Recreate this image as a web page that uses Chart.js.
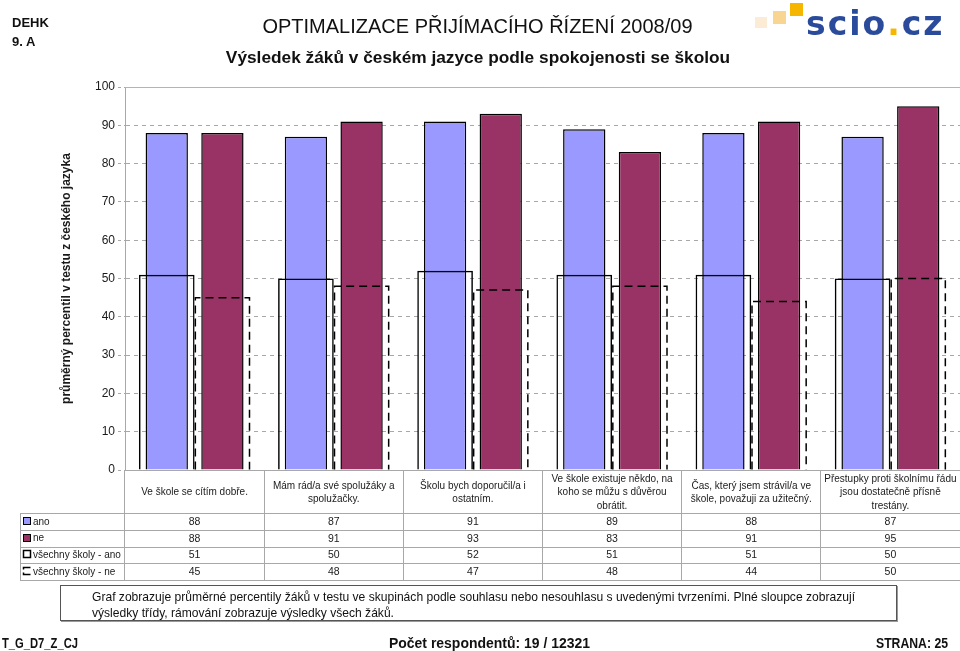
<!DOCTYPE html>
<html>
<head>
<meta charset="utf-8">
<script src="https://cdn.jsdelivr.net/npm/chart.js@4.4.0/dist/chart.umd.min.js"></script>
<style>
body{margin:0;width:960px;height:651px;position:relative;overflow:hidden;background:#fff;font-family:"Liberation Sans",Arial,sans-serif;color:#111}
#wrap{position:absolute;left:0;top:0;width:960px;height:651px}
.abs{position:absolute;white-space:nowrap}
.sq{display:inline-block;transform-origin:0 50%}
</style>
</head>
<body>
<div id="wrap"><canvas id="chart"></canvas></div>

<div class="abs" style="left:12px;top:13px;font-weight:bold;font-size:13px;line-height:19px">DEHK<br>9. A</div>
<div class="abs" style="left:0;width:955px;top:15px;text-align:center;font-size:20px">OPTIMALIZACE PŘIJÍMACÍHO ŘÍZENÍ 2008/09</div>
<div class="abs" style="left:0;width:956px;top:47px;text-align:center;font-size:17.3px;font-weight:bold">Výsledek žáků v českém jazyce podle spokojenosti se školou</div>

<!-- logo -->
<div class="abs" style="left:755px;top:17px;width:12px;height:11px;background:#fcecd6"></div>
<div class="abs" style="left:773px;top:11px;width:13px;height:13px;background:#f9d592"></div>
<div class="abs" style="left:790px;top:3px;width:13px;height:13px;background:#f6b600"></div>
<div class="abs" style="left:806px;top:4px;font-family:'DejaVu Sans',sans-serif;font-weight:bold;font-size:33px;letter-spacing:2px;color:#2a4b9c">scio<span style="color:#f6b600">.</span>cz</div>

<!-- note box -->
<div class="abs" style="left:60px;top:585px;width:837px;height:36px;border:1px solid #555;box-shadow:1px 1px 0 #999;box-sizing:border-box"></div>
<div class="abs" style="left:92px;top:589px;font-size:13px;line-height:15.5px">
  <span class="sq" data-w="763">Graf zobrazuje průměrné percentily žáků v testu ve skupinách podle souhlasu nebo nesouhlasu s uvedenými tvrzeními. Plné sloupce zobrazují</span><br>
  <span class="sq">výsledky třídy, rámování zobrazuje výsledky všech žáků.</span>
</div>

<div class="abs" style="left:2px;top:636px;font-size:14px;line-height:14px;font-weight:bold"><span class="sq" data-w="76">T_G_D7_Z_CJ</span></div>
<div class="abs" style="left:389px;top:636px;font-size:14px;line-height:14px;font-weight:bold"><span class="sq" data-w="201">Počet respondentů: 19 / 12321</span></div>
<div class="abs" style="left:876px;top:636px;font-size:14px;line-height:14px;font-weight:bold"><span class="sq" data-w="72">STRANA: 25</span></div>

<script>
// DATA
const categories = [
  ['Ve škole se cítím dobře.'],
  ['Mám rád/a své spolužáky a', 'spolužačky.'],
  ['Školu bych doporučil/a i', 'ostatním.'],
  ['Ve škole existuje někdo, na', 'koho se můžu s důvěrou', 'obrátit.'],
  ['Čas, který jsem strávil/a ve', 'škole, považuji za užitečný.'],
  ['Přestupky proti školnímu řádu', 'jsou dostatečně přísně', 'trestány.']
];
const seriesNames = ['ano', 'ne', 'všechny školy - ano', 'všechny školy - ne'];
const anoValues = [88, 87, 91, 89, 88, 87];
const neValues = [88, 91, 93, 83, 91, 95];
const allAnoValues = [51, 50, 52, 51, 51, 50];
const allNeValues = [45, 48, 47, 48, 44, 50];
const yTicks = [0, 10, 20, 30, 40, 50, 60, 70, 80, 90, 100];

const GRID = '#a8a8a8';
const TEXT = '#1a1a1a';
const FONT = '"Liberation Sans", Arial, sans-serif';

// squeeze the narrow footer texts to their width
let firstScale = 1;
document.querySelectorAll('.sq').forEach(el => {
  if (el.dataset.w) {
    const s = +el.dataset.w / el.getBoundingClientRect().width;
    el.style.transform = `scaleX(${s})`;
    if (el.textContent.startsWith('Graf')) firstScale = s;
  } else {
    el.style.transform = `scaleX(${firstScale})`;
  }
});

// table under the chart + dashed frames
const tablePlugin = {
  id: 'tablePlugin',
  afterDatasetsDraw(chart) {
    const ctx = chart.ctx;
    const meta = chart.getDatasetMeta(3);
    ctx.save();
    ctx.setLineDash([8, 5]);
    ctx.lineWidth = 1.5;
    ctx.strokeStyle = '#000';
    meta.data.forEach(bar => {
      const l = bar.x - bar.width / 2 + 0.75, r = bar.x + bar.width / 2 - 0.75;
      ctx.beginPath();
      ctx.moveTo(l, bar.base);
      ctx.lineTo(l, bar.y);
      ctx.lineTo(r, bar.y);
      ctx.lineTo(r, bar.base);
      ctx.stroke();
    });
    ctx.restore();
  },
  afterDraw(chart) {
    const ctx = chart.ctx;
    const area = chart.chartArea;
    const xs = chart.scales.x;
    const labelRowH = 43;
    const rowTop = area.bottom + labelRowH;
    const rowH = (xs.bottom - rowTop) / 4;
    const tableLeft = 20;

    ctx.save();
    // solid top line of plot
    ctx.strokeStyle = '#b4b4b4';
    ctx.lineWidth = 1;
    ctx.beginPath();
    ctx.moveTo(area.left, Math.round(area.top) + 0.5);
    ctx.lineTo(area.right, Math.round(area.top) + 0.5);
    ctx.stroke();

    // grid of the table
    ctx.strokeStyle = GRID;
    ctx.beginPath();
    for (let i = 0; i <= 4; i++) {
      const y = Math.round(rowTop + i * rowH) + 0.5;
      ctx.moveTo(tableLeft, y);
      ctx.lineTo(area.right, y);
    }
    ctx.moveTo(tableLeft + 0.5, rowTop);
    ctx.lineTo(tableLeft + 0.5, xs.bottom);
    ctx.stroke();

    // category labels
    ctx.fillStyle = TEXT;
    ctx.font = '10px ' + FONT;
    ctx.textAlign = 'center';
    ctx.textBaseline = 'middle';
    const lh = 13.5;
    categories.forEach((lines, i) => {
      const cx = xs.getPixelForTick(i);
      const cy = area.bottom + labelRowH / 2 + 1;
      lines.forEach((t, j) => {
        ctx.fillText(t, cx, cy + (j - (lines.length - 1) / 2) * lh);
      });
    });

    // rows
    chart.data.datasets.forEach((ds, r) => {
      const cy = rowTop + (r + 0.5) * rowH + 0.5;
      const sx = 23.5, sy = Math.round(cy - 5) + 0.5;
      ctx.save();
      ctx.strokeStyle = '#000';
      if (r < 2) {
        ctx.fillStyle = ds.backgroundColor;
        ctx.fillRect(sx, sy, 7, 7);
        ctx.strokeRect(sx, sy, 7, 7);
      } else if (r === 2) {
        ctx.lineWidth = 1.5;
        ctx.strokeRect(sx, sy, 7, 7);
      } else {
        ctx.lineWidth = 1.5;
        ctx.beginPath();
        ctx.moveTo(sx + 7, sy); ctx.lineTo(sx, sy); ctx.lineTo(sx, sy + 2);
        ctx.moveTo(sx, sy + 5); ctx.lineTo(sx, sy + 7); ctx.lineTo(sx + 7, sy + 7);
        ctx.stroke();
      }
      ctx.restore();
      ctx.font = '10px ' + FONT;
      ctx.textAlign = 'left';
      ctx.fillText(ds.label, 33, cy);
      ctx.font = '10.5px ' + FONT;
      ctx.textAlign = 'center';
      ds.data.forEach((v, i) => {
        ctx.fillText(String(v), xs.getPixelForTick(i), cy);
      });
    });
    ctx.restore();
  }
};

const ctx = document.getElementById('chart');
new Chart(ctx, {
  type: 'bar',
  data: {
    labels: categories.map(c => c.join(' ')),
    datasets: [
      {
        label: seriesNames[0], data: anoValues, stack: 'ano', order: 2,
        backgroundColor: '#9999ff', borderColor: '#000', borderWidth: 1.5, borderSkipped: 'start',
        categoryPercentage: 0.8, barPercentage: 0.76
      },
      {
        label: seriesNames[1], data: neValues, stack: 'ne', order: 2,
        backgroundColor: '#993366', borderColor: '#000', borderWidth: 1.5, borderSkipped: 'start',
        categoryPercentage: 0.8, barPercentage: 0.76
      },
      {
        label: seriesNames[2], data: allAnoValues, stack: 'ano', order: 1,
        backgroundColor: 'rgba(0,0,0,0)', borderColor: '#000', borderWidth: 1.5, borderSkipped: 'start',
        categoryPercentage: 0.8, barPercentage: 1.0
      },
      {
        label: seriesNames[3], data: allNeValues, stack: 'ne', order: 1,
        backgroundColor: 'rgba(0,0,0,0)', borderColor: 'rgba(0,0,0,0)', borderWidth: 0,
        categoryPercentage: 0.8, barPercentage: 1.0
      }
    ]
  },
  options: {
    responsive: true,
    maintainAspectRatio: false,
    animation: false,
    layout: { padding: { top: 87, bottom: 71, left: 0, right: 0 } },
    plugins: {
      legend: { display: false },
      tooltip: { enabled: false }
    },
    scales: {
      x: {
        type: 'category',
        offset: true,
        grid: { offset: true, drawOnChartArea: false, drawTicks: true, tickLength: 110, color: GRID },
        border: { color: GRID },
        ticks: { display: false }
      },
      y: {
        stacked: false,
        min: 0,
        max: 100,
        afterBuildTicks(scale) { scale.ticks = yTicks.map(v => ({ value: v })); },
        afterFit(scale) { scale.width = 125; },
        ticks: { color: TEXT, padding: 3, font: { size: 12, family: FONT } },
        grid: { color: GRID, tickLength: 7, tickBorderDash: [3, 3] },
        border: { color: GRID, dash: [4, 4] },
        title: {
          display: true,
          text: 'průměrný percentil v testu z českého jazyka',
          color: TEXT,
          font: { size: 12, weight: 'bold', family: FONT },
          padding: { top: 59, bottom: 0 }
        }
      }
    }
  },
  plugins: [tablePlugin]
});
</script>
</body>
</html>
